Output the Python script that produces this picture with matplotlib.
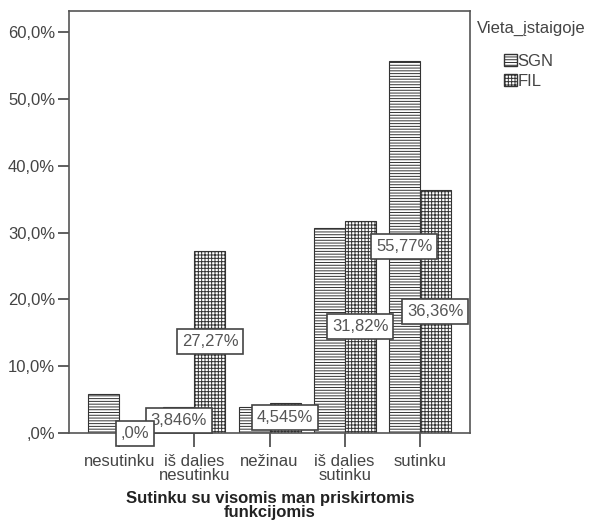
import matplotlib.pyplot as plt
from matplotlib.patches import Patch
import numpy as np

plt.rc('font', family='Liberation Sans', size=12)
plt.rc('hatch', linewidth=0.7, color='#555555')

#------------------------------------------------------------------------------#

categories = ["nesutinku", "iš dalies\nnesutinku", "nežinau", "iš dalies\nsutinku", "sutinku"]
groups = ["SGN", "FIL"]
sgn_values = [5.769, 3.846, 3.846, 30.77, 55.77]
fil_values = [0.0, 27.27, 4.545, 31.82, 36.36]
# labels that SPSS actually printed (None = not shown)
sgn_labels = [None, "3,846%", None, None, "55,77%"]
fil_labels = [",0%", "27,27%", "4,545%", "31,82%", "36,36%"]
yticks = [0, 10, 20, 30, 40, 50, 60]
ytick_labels = [",0%", "10,0%", "20,0%", "30,0%", "40,0%", "50,0%", "60,0%"]

legend_title = "Vieta_įstaigoje"
xlabel = "Sutinku su visomis man priskirtomis\nfunkcijomis"

#------------------------------------------------------------------------------#

def add_labels(ax, xs, values, labels):
    for x, v, lab in zip(xs, values, labels):
        if lab is None:
            continue
        ax.text(x, v / 2.0, lab, ha='center', va='center', color='#555555',
                fontsize=12, clip_on=False, zorder=5,
                bbox=dict(boxstyle='square,pad=0.3', fc='white', ec='#444444', lw=1.2))

#------------------------------------------------------------------------------#

def main():

    fig = plt.figure(figsize=(5.92, 5.25), dpi=100)
    ax = fig.add_axes([0.1166, 0.1752, 0.794 - 0.1166, 0.979 - 0.1752])

    x = np.arange(len(categories))
    w = 0.413
    hatches = ['------', '+++++']

    ax.bar(x - w / 2, sgn_values, w, color='white', edgecolor='#333333',
           hatch=hatches[0], linewidth=0.8)
    ax.bar(x + w / 2, fil_values, w, color='white', edgecolor='#333333',
           hatch=hatches[1], linewidth=0.8)

    add_labels(ax, x - w / 2, sgn_values, sgn_labels)
    add_labels(ax, x + w / 2, fil_values, fil_labels)

    ax.set_xlim(-0.67, 4.67)
    ax.set_ylim(0, 63.2)
    ax.set_yticks(yticks)
    ax.set_yticklabels(ytick_labels, color='#444444')
    ax.set_xticks(x)
    ax.set_xticklabels(categories, color='#444444', linespacing=0.95)
    ax.tick_params(axis='y', length=8, width=1.2, color='#444444', pad=2)
    ax.tick_params(axis='x', length=10, width=1.2, color='#444444', pad=5)

    for s in ax.spines.values():
        s.set_color('#555555')
        s.set_linewidth(1.2)

    fig.text(0.456, 0.037, xlabel, ha='center', va='center', fontsize=12,
             fontweight='bold', linespacing=0.9, color='#222222')

    fig.text(0.806, 0.946, legend_title, ha='left', va='center', fontsize=12,
             color='#444444')
    handles = [Patch(facecolor='white', edgecolor='#333333', hatch=h, label=g)
               for g, h in zip(groups, hatches)]
    fig.legend(handles=handles, loc='upper left', bbox_to_anchor=(0.852, 0.897),
               frameon=False, handlelength=0.75, handleheight=0.75,
               handletextpad=0.05, labelspacing=0.3, borderpad=0, borderaxespad=0,
               fontsize=12, labelcolor='#444444')

    fig.savefig('out.png', dpi=100)

#------------------------------------------------------------------------------#

if __name__ == "__main__":
    main()
